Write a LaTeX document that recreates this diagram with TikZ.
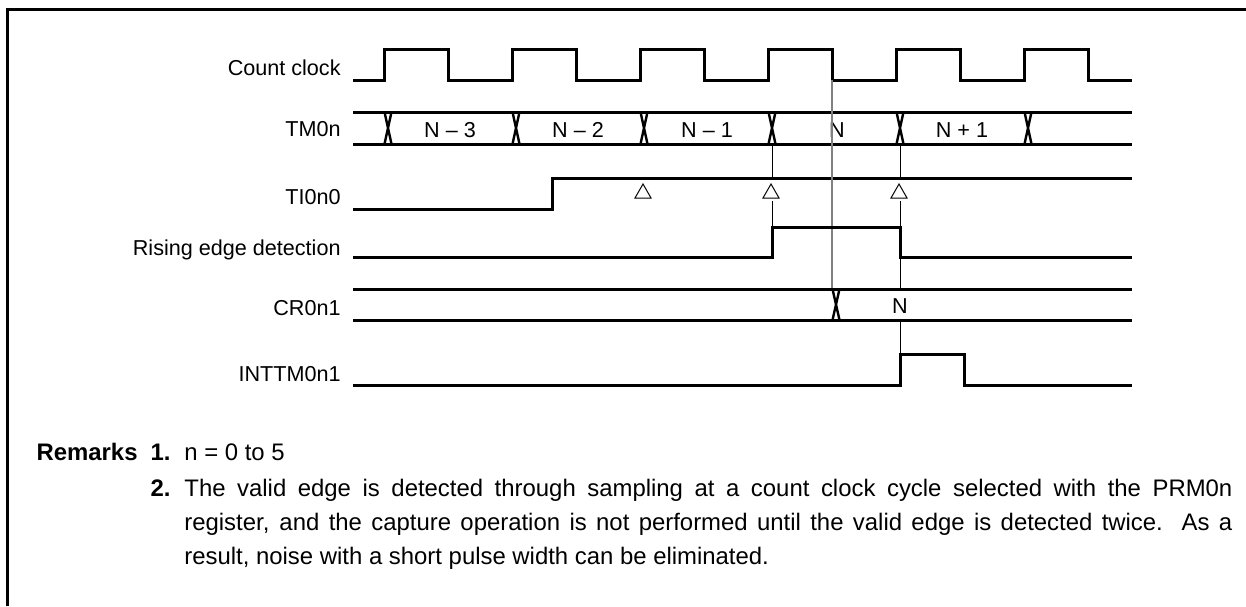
\documentclass[tikz,border=0pt]{standalone}
\usepackage{fontspec}
\setmainfont{Liberation Sans}
\usepackage{tikz}

\begin{document}
\begin{tikzpicture}[x=0.5pt,y=-0.5pt]
        \tikzstyle{sig}=[line width=1.5pt]
        \tikzstyle{cross}=[line width=1.2pt]
        \tikzstyle{guide}=[line width=0.5pt]
        \tikzstyle{lbl}=[inner sep=0pt, anchor=base east, font=\fontsize{10.8}{13}\selectfont]
        \tikzstyle{val}=[inner sep=0pt, anchor=base, font=\fontsize{10.8}{13}\selectfont]
        \tikzstyle{rem}=[inner sep=0pt, font=\fontsize{11.95}{17}\selectfont]

            \useasboundingbox (0,0) rectangle (1246,606);
            \draw[line width=1.5pt] (7,606) -- (7,9) -- (1246,9);

            \node[lbl](clk) at (341,75){Count clock};
            \node[lbl](tm) at (341,136){TM0n};
            \node[lbl](ti) at (341,204){TI0n0};
            \node[lbl](red) at (341,255){Rising edge detection};
            \node[lbl](cr) at (341,315){CR0n1};
            \node[lbl](int) at (341,381){INTTM0n1};

            \draw[sig] (353,80) \foreach \k in {0,...,5}{ -- ({384+128*\k},80) -- ({384+128*\k},49) -- ({448+128*\k},49) -- ({448+128*\k},80)} -- (1132,80);

            \draw[sig] (353,112) -- (1132,112);
            \draw[sig] (353,144) -- (1132,144);
            \foreach \c in {388,516,644,772,900,1028}
            \draw[cross] (\c-3.5,112) -- (\c+3.5,144) (\c-3.5,144) -- (\c+3.5,112);

            \foreach \x/\t [count=\i] in {450/N – 3, 578/N – 2, 707/N – 1, 837/N, 962/N + 1}
            \node[val](tm\i) at (\x,137){\t};

            \draw[sig] (353,209) -- (552,209) -- (552,178) -- (1132,178);
            \foreach \x in {643,771,899}
            \draw[guide] (\x,184) -- (\x+8,198) -- (\x-8,198) -- cycle;

            \draw[gray, line width=0.8pt] (832,80) -- (832,289);

            \foreach \x/\from/\to in {772/144/178, 772/201/227, 900/144/178, 900/201/289, 900/320/354}
            \draw[guide] (\x,\from) -- (\x,\to);

            \draw[sig] (353,257) -- (772,257) -- (772,227) -- (900,227) -- (900,257) -- (1132,257);

            \draw[sig] (353,289) -- (1132,289);
            \draw[sig] (353,320) -- (1132,320);
            \draw[cross] (832.5,289) -- (839.5,320) (832.5,320) -- (839.5,289);
            \node[val](crv) at (900,313){N};

            \draw[sig] (353,385) -- (900,385) -- (900,354) -- (964,354) -- (964,385) -- (1132,385);

            \node[rem, anchor=base east](rk) at (138,460){\textbf{Remarks}};
            \node[rem, anchor=base east](r1) at (171,460){\textbf{1.}};
            \node[rem, anchor=base west](t1) at (184,460){n = 0 to 5};
            \node[rem, anchor=base east](r2) at (171,496){\textbf{2.}};
            \node[rem, anchor=base west, text width=524pt, align=justify](t2) at (184,496){The valid edge is detected through sampling at a count clock cycle selected with the PRM0n\linebreak register, and the capture operation is not performed until the valid edge is detected twice.\ \ As a\linebreak result, noise with a short pulse width can be eliminated.};

        \end{tikzpicture}
\end{document}
